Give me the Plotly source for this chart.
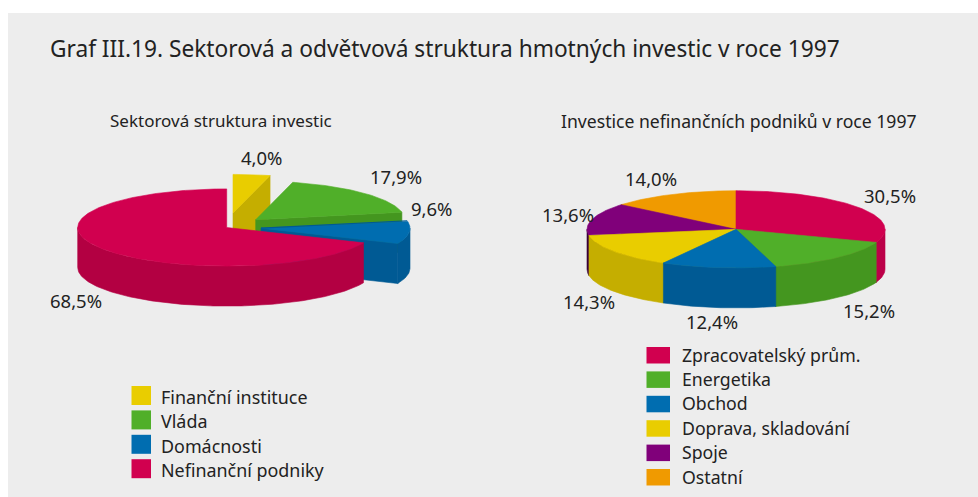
import math
import plotly.graph_objects as go

# ---- data ----
TITLE = "Graf III.19. Sektorová a odvětvová struktura hmotných investic v roce 1997"

left_title = "Sektorová struktura investic"
left_categories = ["Finanční instituce", "Vláda", "Domácnosti", "Nefinanční podniky"]
left_values = [4.0, 17.9, 9.6, 68.5]

right_title = "Investice nefinančních podniků v roce 1997"
right_categories = ["Zpracovatelský prům.", "Energetika", "Obchod",
                    "Doprava, skladování", "Spoje", "Ostatní"]
right_values = [30.5, 15.2, 12.4, 14.3, 13.6, 14.0]

# ---- style ----
RED, RED_D = "#D1004F", "#B30042"
GREEN, GREEN_D = "#50AF29", "#44961F"
BLUE, BLUE_D = "#006DB0", "#005A94"
YELLOW, YELLOW_D = "#E9CD00", "#C5AE00"
PURPLE, PURPLE_D = "#80007A", "#3A0038"
ORANGE, ORANGE_D = "#F09A00", "#C88000"
BG = "#EDEDED"
INK = "#222222"
FONT = "Noto Sans"

left_colors = [(YELLOW, YELLOW_D), (GREEN, GREEN_D), (BLUE, BLUE_D), (RED, RED_D)]
right_colors = [(RED, "#BC0048"), (GREEN, GREEN_D), (BLUE, BLUE_D),
                (YELLOW, YELLOW_D), (PURPLE, PURPLE_D), (ORANGE, ORANGE_D)]

RX, RY, DEPTH = 149.0, 38.6, 40.0

fig = go.Figure()


def poly(xs, ys, color, name):
    fig.add_trace(go.Scatter(x=xs, y=ys, mode="lines", fill="toself", fillcolor=color,
                             line=dict(color=color, width=0.6), name=name,
                             showlegend=False, hoverinfo="name"))


def pt(c, a, dz=0.0):
    r = math.radians(a)
    return c[0] + RX * math.sin(r), c[1] - RY * math.cos(r) + dz


def arc(c, a0, a1, dz=0.0):
    n = max(2, int(abs(a1 - a0)) + 1)
    return [pt(c, a0 + (a1 - a0) * i / n, dz) for i in range(n + 1)]


def wedge(c, a0, a1, top, side, name, rim=False):
    # cut faces that turn towards the viewer
    for a in (a0, a1):
        visible = (a == a1 and 0 < a < 180) or (a == a0 and 180 < a < 360)
        if visible:
            o = pt(c, a)
            poly([c[0], o[0], o[0], c[0], c[0]],
                 [c[1], o[1], o[1] + DEPTH, c[1] + DEPTH, c[1]], side, name)
    # outer wall: front half of the ellipse only
    s, e = max(a0, 90), min(a1, 270)
    if s < e:
        upper, lower = arc(c, s, e), arc(c, e, s, DEPTH)
        p = upper + lower + upper[:1]
        poly([q[0] for q in p], [q[1] for q in p], side, name)
    # top face
    p = [c] + arc(c, a0, a1) + [c]
    poly([q[0] for q in p], [q[1] for q in p], top, name)
    if rim:
        o = pt(c, a0)
        fig.add_trace(go.Scatter(x=[c[0], o[0]], y=[c[1], o[1]], mode="lines",
                                 line=dict(color=side, width=1.2), name=name,
                                 showlegend=False, hoverinfo="name"))


def angles(values):
    total, out = 0.0, []
    for v in values:
        out.append((total * 3.6, (total + v) * 3.6))
        total += v
    return out


# left pie: exploded slices, each with its own centre, back slices drawn first
left_centres = [(233.0, 213.0), (255.7, 219.7), (261.0, 228.2), (226.7, 227.5)]
left_rims = [False, False, True, False]
for (a0, a1), c, (top, side), name, rim in zip(angles(left_values), left_centres, left_colors,
                                               left_categories, left_rims):
    wedge(c, a0, a1, top, side, name, rim)

# right pie: painter's order, back to front
right_c = (736.0, 229.3)
order = [5, 4, 0, 3, 1, 2]
ang = angles(right_values)
for i in order:
    wedge(right_c, ang[i][0], ang[i][1], right_colors[i][0], right_colors[i][1], right_categories[i])


def label(x, y, text, size=18.5, anchor="center"):
    fig.add_annotation(x=x, y=y, text=text, showarrow=False, xref="x", yref="y",
                       xanchor=anchor, yanchor="middle",
                       font=dict(family=FONT, size=size, color=INK))


def pct(v):
    return f"{v:.1f}%".replace(".", ",")


label(48, 48.5, TITLE, size=22.7, anchor="left")
label(220.5, 120.5, left_title, size=17)
label(739, 120.5, right_title, size=17.6)

left_label_pos = [(262, 157.5), (396, 176.5), (432, 208.5), (76, 300)]
for v, (x, y) in zip(left_values, left_label_pos):
    label(x, y, pct(v))
right_label_pos = [(890, 195.5), (869, 310.5), (712, 321.5), (589, 301.5), (568, 214.5), (651, 178.5)]
for v, (x, y) in zip(right_values, right_label_pos):
    label(x, y, pct(v))

shapes = [dict(type="rect", xref="x", yref="y", x0=8, y0=13, x1=978, y1=497,
               fillcolor=BG, line=dict(width=0), layer="below")]
for i, (name, (col, _)) in enumerate(zip(left_categories, left_colors)):
    y0 = 386 + i * 24.4
    shapes.append(dict(type="rect", xref="x", yref="y", x0=131.5, x1=151, y0=y0, y1=y0 + 19,
                       fillcolor=col, line=dict(width=0)))
    label(159, y0 + 11, name, size=17.9, anchor="left")
for i, (name, (col, _)) in enumerate(zip(right_categories, right_colors)):
    y0 = 347 + i * 24.4
    shapes.append(dict(type="rect", xref="x", yref="y", x0=646.5, x1=670, y0=y0, y1=y0 + 16.5,
                       fillcolor=col, line=dict(width=0)))
    label(680, y0 + 7.5, name, size=17.7, anchor="left")

fig.update_layout(
    width=978, height=497, margin=dict(l=0, r=0, t=0, b=0),
    paper_bgcolor="white", plot_bgcolor="white", showlegend=False, shapes=shapes,
    xaxis=dict(range=[0, 978], visible=False, fixedrange=True),
    yaxis=dict(range=[497, 0], visible=False, fixedrange=True),
    font=dict(family=FONT, color=INK),
)
fig.write_html("out.html", config={"displayModeBar": False},
               post_script="document.body.style.margin='0';document.documentElement.style.overflow='hidden';")
